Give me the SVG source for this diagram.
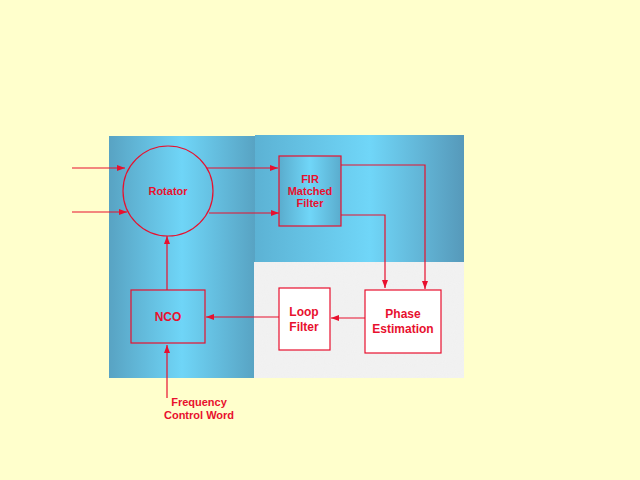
<svg xmlns="http://www.w3.org/2000/svg" width="640" height="480" viewBox="0 0 640 480">
<style>
.l{stroke:#e8102e;stroke-width:1.2;fill:none}
.b{stroke:#e8102e;stroke-width:1.2}
.t{font-family:"Liberation Sans",Arial,sans-serif;font-weight:bold;fill:#e8102e;text-anchor:middle}
</style>
<defs>
<linearGradient id="gl" x1="0" x2="1" y1="0" y2="0">
<stop offset="0" stop-color="#58a3c3"/><stop offset="0.5" stop-color="#6fd5f7"/><stop offset="1" stop-color="#58a3c3"/>
</linearGradient>
<linearGradient id="gr" x1="0" x2="1" y1="0" y2="0">
<stop offset="0" stop-color="#5cb2d4"/><stop offset="0.55" stop-color="#70d6f8"/><stop offset="1" stop-color="#5699ba"/>
</linearGradient>
<linearGradient id="gb" x1="0" x2="1" y1="0" y2="0">
<stop offset="0" stop-color="#5aaccd"/><stop offset="0.5" stop-color="#70d6f8"/><stop offset="1" stop-color="#5aaccd"/>
</linearGradient>
<filter id="n" x="0" y="0" width="1" height="1">
<feTurbulence type="fractalNoise" baseFrequency="0.9" numOctaves="2" result="t"/>
<feColorMatrix in="t" type="matrix" values="0 0 0 0 0.86 0 0 0 0 0.86 0 0 0 0 0.86 0 0 0 -0.9 0.75" result="c"/>
<feFlood flood-color="#f2f2f2" result="f"/>
<feComposite in="c" in2="f" operator="over" result="o"/>
<feComposite in="o" in2="SourceGraphic" operator="in"/>
</filter>
<marker id="a" markerWidth="8" markerHeight="6" refX="8" refY="3" orient="auto" markerUnits="userSpaceOnUse">
<path d="M0,0L8,3L0,6z" fill="#e8102e"/>
</marker>
</defs>
<rect width="640" height="480" fill="#ffffcc"/>
<rect x="109" y="136" width="146" height="242" fill="url(#gl)"/>
<rect x="255" y="135" width="209" height="127" fill="url(#gr)"/>
<rect x="254" y="262" width="210" height="116" fill="#eee" filter="url(#n)"/>
<g id="connectors">
<path class="l" d="M72,168H125" marker-end="url(#a)"/>
<path class="l" d="M72,212H127" marker-end="url(#a)"/>
<path class="l" d="M207,168H278" marker-end="url(#a)"/>
<path class="l" d="M209,213H279" marker-end="url(#a)"/>
<path class="l" d="M341,165H425V289" marker-end="url(#a)"/>
<path class="l" d="M341,215H385V288" marker-end="url(#a)"/>
<path class="l" d="M365,318H331" marker-end="url(#a)"/>
<path class="l" d="M279,317H206" marker-end="url(#a)"/>
<path class="l" d="M167,290V236" marker-end="url(#a)"/>
<path class="l" d="M167,398V345" marker-end="url(#a)"/>
</g>
<g id="rotator"><circle class="l" cx="168" cy="191" r="45"/><text class="t" x="168" y="195" font-size="11">Rotator</text></g>
<g id="fir"><rect class="b" x="279" y="156" width="62" height="70" fill="url(#gb)"/>
<text class="t" font-size="11"><tspan x="310" y="183">FIR</tspan><tspan x="310" y="195">Matched</tspan><tspan x="310" y="207">Filter</tspan></text></g>
<g id="nco"><rect class="b" x="131" y="290" width="74" height="53" fill="none"/><text class="t" x="168" y="321" font-size="12">NCO</text></g>
<g id="loop"><rect class="b" x="279" y="288" width="51" height="62" fill="#fff"/>
<text class="t" font-size="12"><tspan x="304" y="316">Loop</tspan><tspan x="304" y="331">Filter</tspan></text></g>
<g id="phase"><rect class="b" x="365" y="290" width="76" height="63" fill="#fff"/>
<text class="t" font-size="12"><tspan x="403" y="318">Phase</tspan><tspan x="403" y="333">Estimation</tspan></text></g>
<g id="fcw"><text class="t" font-size="11"><tspan x="199" y="406">Frequency</tspan><tspan x="199" y="419">Control Word</tspan></text></g>
</svg>
